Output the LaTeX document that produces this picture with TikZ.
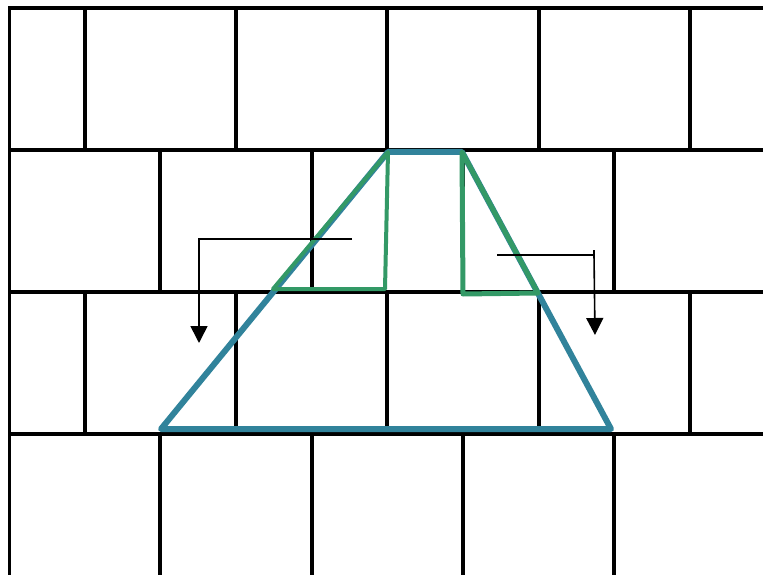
\documentclass[tikz,border=0pt]{standalone}
\usepackage{xcolor}
\usepackage{tikz}
\usetikzlibrary{arrows.meta}
\definecolor{trapline}{HTML}{31839B}
\definecolor{wedgeline}{HTML}{339966}
\tikzset{
  joint/.style = {line width=3.2pt, draw=black},
  trap/.style  = {line width=6pt, draw=trapline, line join=round},
  wedge/.style = {line width=5pt, draw=wedgeline, line join=round},
  slide/.style = {line width=1.6pt, draw=black, -{Triangle[length=17pt,width=17pt]}},
}

\begin{document}
\begin{tikzpicture}[x=1pt,y=-1pt]
    \useasboundingbox (0,0) rectangle (763,575);
    % Brick courses
    \foreach \y in {8,150,292,434}
      \draw[joint] (8,\y) -- (763,\y);
    \draw[joint] (9.5,8) -- (9.5,575);
    \foreach \x in {85,236,387,539,690} {
      \draw[joint] (\x,8) -- (\x,150);
      \draw[joint] (\x,292) -- (\x,434);
    }
    \foreach \x in {160,312,463,614} {
      \draw[joint] (\x,150) -- (\x,292);
      \draw[joint] (\x,434) -- (\x,575);
    }
    % Trapezoid
    \coordinate (bl) at (161,429);
    \coordinate (tl) at (388,152);
    \coordinate (tr) at (462,152);
    \coordinate (br) at (611,429);
    \draw[trap] (bl) -- (tl) -- (tr) -- (br) -- cycle;
    % Side wedges
    \coordinate (lw) at (273,289);
    \coordinate (lc) at (385,289);
    \coordinate (rc) at (463,294);
    \coordinate (rw) at (538,293);
    \draw[wedge, line width=4pt] (tl) -- (lw) -- (lc) -- cycle;
    \draw[wedge] (tr) -- (rc) -- (rw) -- cycle;
    % Sliding arrows
    \coordinate (la) at (352,239);
    \coordinate (lb) at (199,239);
    \coordinate (lt) at (199,343);
    \draw[slide] (la) -- (lb) -- (lt);
    \coordinate (ra) at (497,255);
    \coordinate (rb) at (594,255);
    \coordinate (rt) at (595,335);
    \coordinate (rk) at (594,250);
    \draw[slide] (ra) -- (rb) -- (rt);
    \draw[line width=1.6pt] (rk) -- (rb);
\end{tikzpicture}
\end{document}
